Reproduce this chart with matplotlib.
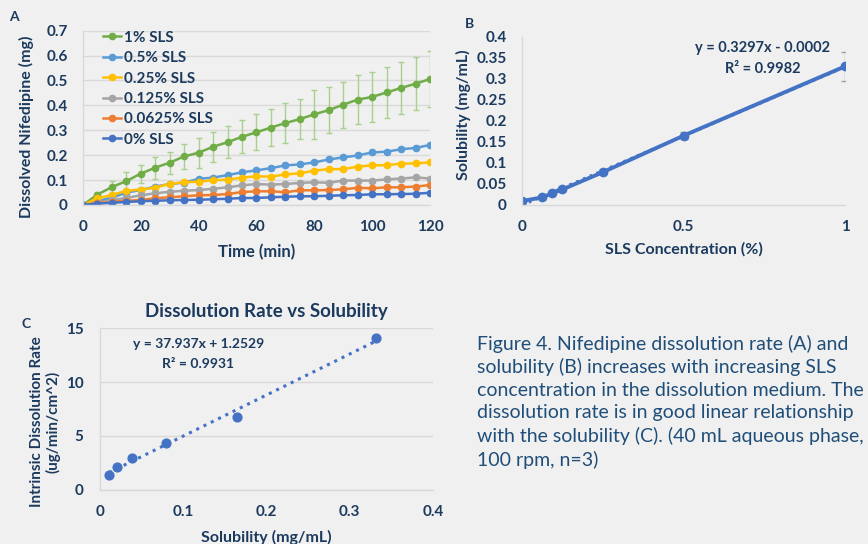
import numpy as np
import matplotlib
matplotlib.use('Agg')
import matplotlib.pyplot as plt

plt.rcParams['font.family'] = ['Lato', 'DejaVu Sans']

# ---- panel A data: dissolved nifedipine (mg) vs time (min)
time = list(range(0, 125, 5))
sls_1 = [0, 0.042, 0.072, 0.096, 0.126, 0.150, 0.170, 0.195, 0.210, 0.234, 0.252, 0.274, 0.292,
         0.311, 0.329, 0.345, 0.364, 0.381, 0.403, 0.423, 0.434, 0.452, 0.470, 0.487, 0.506]
sls_1_err = [0, 0.010, 0.023, 0.035, 0.036, 0.044, 0.044, 0.049, 0.060, 0.060, 0.065, 0.067, 0.073,
             0.076, 0.082, 0.081, 0.098, 0.092, 0.092, 0.098, 0.100, 0.101, 0.106, 0.106, 0.111]
sls_05 = [0, 0.016, 0.029, 0.050, 0.060, 0.074, 0.084, 0.090, 0.105, 0.110, 0.120, 0.131, 0.139,
          0.148, 0.159, 0.163, 0.171, 0.183, 0.191, 0.199, 0.211, 0.214, 0.224, 0.229, 0.241]
sls_025 = [0, 0.027, 0.040, 0.057, 0.062, 0.070, 0.085, 0.091, 0.094, 0.099, 0.102, 0.110, 0.115,
           0.114, 0.123, 0.127, 0.138, 0.144, 0.144, 0.154, 0.159, 0.160, 0.166, 0.167, 0.171]
sls_0125 = [0, 0.008, 0.020, 0.028, 0.039, 0.047, 0.053, 0.057, 0.060, 0.065, 0.071, 0.079, 0.084,
            0.082, 0.084, 0.089, 0.091, 0.089, 0.098, 0.098, 0.098, 0.103, 0.106, 0.111, 0.106]
sls_00625 = [0, 0.007, 0.013, 0.017, 0.020, 0.027, 0.031, 0.035, 0.039, 0.040, 0.044, 0.052, 0.055,
             0.055, 0.051, 0.059, 0.059, 0.060, 0.063, 0.069, 0.067, 0.071, 0.071, 0.074, 0.080]
sls_0 = [0, 0.005, 0.009, 0.012, 0.015, 0.017, 0.019, 0.020, 0.021, 0.023, 0.025, 0.028, 0.028,
         0.031, 0.033, 0.035, 0.035, 0.037, 0.039, 0.040, 0.043, 0.043, 0.044, 0.045, 0.049]
small_err = [0] + [0.008] * 24

# ---- panel B data: solubility vs SLS concentration
sls_conc = [0, 0.0625, 0.094, 0.125, 0.25, 0.5, 1]
solubility = [0.0095, 0.018, 0.028, 0.037, 0.078, 0.165, 0.330]
solubility_err = [0.002, 0.003, 0.003, 0.003, 0.004, 0.009, 0.035]

# ---- panel C data: intrinsic dissolution rate vs solubility
sol_c = [0.011, 0.020, 0.038, 0.079, 0.165, 0.331]
idr = [1.39, 2.16, 2.93, 4.34, 6.78, 14.04]

navy = '#1c3a5e'
bg = '#f0f0f0'
grid_c = '#d9d9d9'

fig = plt.figure(figsize=(8.68, 5.44), dpi=100, facecolor=bg)


def style(ax, grid=True):
    ax.set_facecolor(bg)
    for s in ['top', 'right']:
        ax.spines[s].set_visible(False)
    for s in ['left', 'bottom']:
        ax.spines[s].set_color(grid_c)
        ax.spines[s].set_linewidth(1)
    if grid:
        ax.yaxis.grid(True, color=grid_c, linewidth=1)
    ax.set_axisbelow(True)
    ax.tick_params(length=0, colors=navy, labelsize=11, pad=11)
    for lab in ax.get_xticklabels() + ax.get_yticklabels():
        lab.set_fontweight('bold')


# ---- A
axA = fig.add_axes([0.0956, 0.6232, 0.3998, 0.3204])
series = [
    ('1% SLS', sls_1, sls_1_err, '#70ad47', '#a9d18e'),
    ('0.5% SLS', sls_05, small_err, '#5b9bd5', '#9dc3e6'),
    ('0.25% SLS', sls_025, small_err, '#ffc000', '#ffd966'),
    ('0.125% SLS', sls_0125, small_err, '#a5a5a5', '#c9c9c9'),
    ('0.0625% SLS', sls_00625, small_err, '#ed7d31', '#f4b183'),
    ('0% SLS', sls_0, small_err, '#4472c4', '#8faadc'),
]
handles = []
for lab, vals, err, c, ec in series:
    cont = axA.errorbar(time, vals, yerr=err, color=c, ecolor=ec, elinewidth=1, capsize=2.5,
                        marker='o', markersize=4.5, linewidth=1.8, label=lab)
    handles.append(cont.lines[0])
axA.set_xlim(0, 120)
axA.set_ylim(0, 0.7)
axA.set_xticks(range(0, 121, 20))
axA.set_yticks(np.arange(0, 0.71, 0.1))
axA.set_yticklabels(['0', '0.1', '0.2', '0.3', '0.4', '0.5', '0.6', '0.7'])
style(axA)
axA.set_xlabel('Time (min)', color=navy, fontsize=12, fontweight='bold', labelpad=7)
axA.set_ylabel('Dissolved Nifedipine (mg)', color=navy, fontsize=11.5, fontweight='bold')
axA.yaxis.set_label_coords(-0.14, 0.447)
leg = axA.legend(handles, [s[0] for s in series], loc='upper left', bbox_to_anchor=(0.04, 1.035),
                 frameon=False, handlelength=1.2, handletextpad=0.15, labelspacing=0.42,
                 borderaxespad=0, prop={'weight': 'bold', 'size': 11})
for t in leg.get_texts():
    t.set_color(navy)
fig.text(0.011, 0.962, 'A', color=navy, fontsize=10, fontweight='bold')

# ---- B
axB = fig.add_axes([0.6014, 0.6232, 0.3721, 0.3088])
fitB = np.polyfit(sls_conc, solubility, 1)
xb = np.linspace(0, 1, 50)
axB.plot(xb, np.polyval(fitB, xb), color='#4472c4', linestyle=':', linewidth=2)
axB.errorbar(sls_conc, solubility, yerr=solubility_err, color='#4472c4', ecolor='#a0a0a0',
             elinewidth=1, capsize=3, marker='o', markersize=6, linewidth=2.8)
axB.set_xlim(0, 1)
axB.set_ylim(0, 0.4)
axB.set_xticks([0, 0.5, 1])
axB.set_xticklabels(['0', '0.5', '1'])
axB.set_yticks(np.arange(0, 0.41, 0.05))
axB.set_yticklabels(['0', '0.05', '0.1', '0.15', '0.2', '0.25', '0.3', '0.35', '0.4'])
style(axB, grid=False)
axB.set_xlabel('SLS Concentration (%)', color=navy, fontsize=11.5, fontweight='bold', labelpad=6)
axB.set_ylabel('Solubility (mg/mL)', color=navy, fontsize=11.5, fontweight='bold')
axB.yaxis.set_label_coords(-0.158, 0.54)
axB.text(0.745, 0.935, 'y = 0.3297x - 0.0002', transform=axB.transAxes, ha='center', va='center',
         color=navy, fontsize=10.5, fontweight='bold')
axB.text(0.745, 0.81, 'R² = 0.9982', transform=axB.transAxes, ha='center', va='center',
         color=navy, fontsize=10.5, fontweight='bold')
fig.text(0.536, 0.948, 'B', color=navy, fontsize=10, fontweight='bold')

# ---- C
axC = fig.add_axes([0.1152, 0.0993, 0.3836, 0.2977])
fitC = np.polyfit(sol_c, idr, 1)
xc = np.linspace(min(sol_c), max(sol_c), 50)
axC.plot(xc, np.polyval(fitC, xc), color='#4472c4', linestyle=':', linewidth=2.2)
axC.scatter(sol_c, idr, color='#4472c4', s=40, zorder=3)
axC.set_xlim(0, 0.4)
axC.set_ylim(0, 15)
axC.set_xticks([0, 0.1, 0.2, 0.3, 0.4])
axC.set_xticklabels(['0', '0.1', '0.2', '0.3', '0.4'])
axC.set_yticks([0, 5, 10, 15])
style(axC)
axC.tick_params(axis='y', pad=12)
axC.set_xlabel('Solubility (mg/mL)', color=navy, fontsize=11.5, fontweight='bold', labelpad=8)
axC.set_ylabel('Intrinsic Dissolution Rate\n(ug/min/cm^2)', color=navy, fontsize=11,
               fontweight='bold', linespacing=1.05)
axC.yaxis.set_label_coords(-0.12, 0.42)
axC.set_title('Dissolution Rate vs Solubility', color=navy, fontsize=13.5, fontweight='bold', pad=8)
axC.text(0.295, 0.90, 'y = 37.937x + 1.2529', transform=axC.transAxes, ha='center', va='center',
         color=navy, fontsize=10, fontweight='bold')
axC.text(0.295, 0.78, 'R² = 0.9931', transform=axC.transAxes, ha='center', va='center',
         color=navy, fontsize=10, fontweight='bold')
fig.text(0.025, 0.397, 'C', color=navy, fontsize=10, fontweight='bold')

# ---- caption
caption = ('Figure 4. Nifedipine dissolution rate (A) and\n'
           'solubility (B) increases with increasing SLS\n'
           'concentration in the dissolution medium. The\n'
           'dissolution rate is in good linear relationship\n'
           'with the solubility (C). (40 mL aqueous phase,\n'
           '100 rpm, n=3)')
fig.text(0.549, 0.385, caption, color='#1f4e79', fontsize=14, va='top', ha='left',
         linespacing=1.38)

fig.savefig('out.png', dpi=100, facecolor=bg)
